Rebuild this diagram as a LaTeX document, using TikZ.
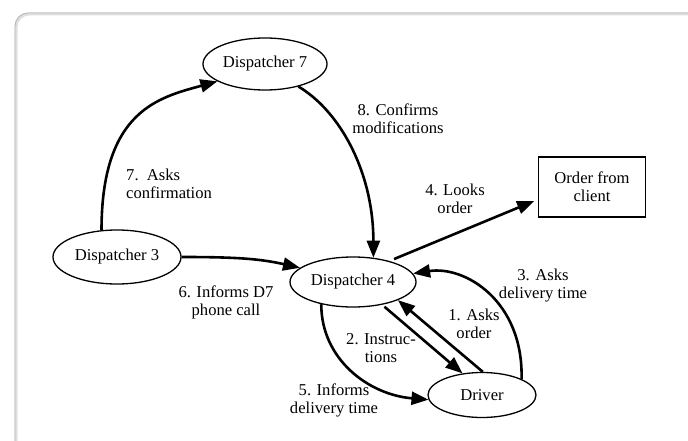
\documentclass[tikz,border=0pt]{standalone}
\usepackage{fontspec}
\setmainfont{Liberation Serif}
\usetikzlibrary{arrows.meta,shapes.geometric}
\begin{document}
\begin{tikzpicture}[x=1pt,y=-1pt,
  every node/.style={font=\fontsize{16.6}{18}\selectfont},
  agent/.style={draw, ellipse, line width=1.3pt, inner sep=0pt},
  docbox/.style={draw, rectangle, line width=1.3pt, inner sep=0pt, minimum width=107pt, minimum height=60pt, align=center},
  lbl/.style={align=center, inner sep=0pt},
  flow/.style={line width=2.6pt, -{Triangle[length=17pt,width=13pt]}}
]
\useasboundingbox (0,0) rectangle (688,441);
\clip (0,0) rectangle (688,441);
\fill[white] (0,0) rectangle (688,441);
\draw[gray!25, line width=3pt, rounded corners=13pt] (16,14) rectangle (720,470);
\draw[gray!55, line width=0.9pt, rounded corners=13pt] (15,13) rectangle (720,470);

\node[agent, minimum width=124pt, minimum height=52pt] (d7) at (265,64) {Dispatcher 7};
\node[agent, minimum width=128pt, minimum height=54pt] (d3) at (117,257) {Dispatcher 3};
\node[agent, minimum width=126pt, minimum height=50pt] (d4) at (353,282) {Dispatcher 4};
\node[agent, minimum width=108pt, minimum height=45pt] (drv) at (482,395) {Driver};
\node[docbox] (ord) at (592,187) {Order from\\client};

\draw[flow] (d3.120) .. controls +(0,-120) and +(-58,16) .. (d7.200);
\draw[flow] (d7.-34) .. controls +(42,25) and +(0,-85) .. (d4.50);
\draw[flow] (d3.east) .. controls +(55,0) and +(-40,-9) .. (d4.165);
\draw[flow, shorten <=5pt, shorten >=4pt] (d4.30) -- (ord.193);
\draw[flow] (drv.22) .. controls +(2,-78) and +(52,-8) .. (d4.8);
\draw[flow] (drv.88) -- (d4.-22);
\draw[flow, shorten <=3pt] (d4.-38) -- (drv.132);
\draw[flow] (d4.215) .. controls +(0,55) and +(-60,-5) .. (drv.185);

\node[lbl] (l8) at (398,119) {8. Confirms\\modifications};
\node[lbl, align=left, anchor=west] (l7) at (126,184) {7.~~Asks\\confirmation};
\node[lbl] (l4) at (455,199) {4. Looks\\order};
\node[lbl] (l3) at (543,286) {3. Asks\\delivery time};
\node[lbl] (l6) at (226,302) {6. Informs D7\\phone call};
\node[lbl] (l1) at (474,324) {1. Asks\\order};
\node[lbl] (l2) at (381,348) {2. Instruc-\\tions};
\node[lbl] (l5) at (334,400) {5. Informs\\delivery time};
\end{tikzpicture}
\end{document}
